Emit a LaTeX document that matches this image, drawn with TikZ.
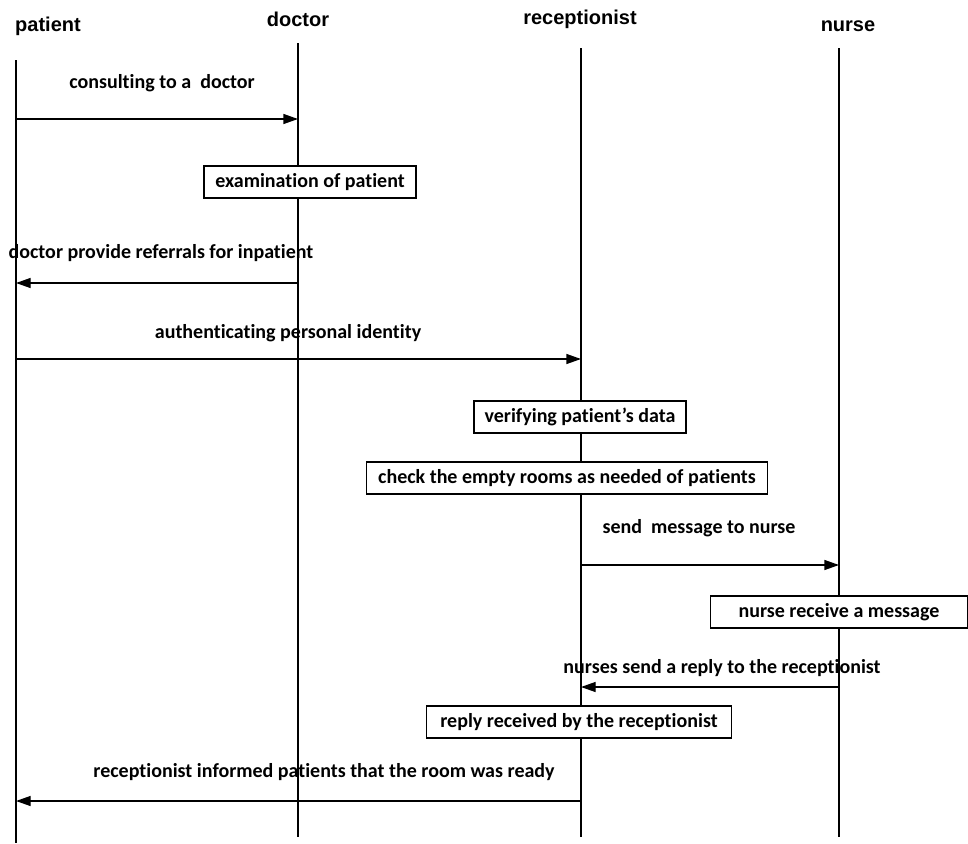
\documentclass[tikz,border=0pt]{standalone}
\usepackage{fontspec}
\setmainfont{Carlito}[Ligatures=NoCommon]
\newfontfamily\headfont{Liberation Sans}
\usetikzlibrary{arrows.meta}

\begin{document}
\begin{tikzpicture}[x=0.75pt,y=-0.75pt,>={Triangle[length=11pt,width=7.5pt]},
  actor/.style={font=\headfont\bfseries\fontsize{15}{17}\selectfont,inner sep=0pt},
  life/.style={line width=0.8pt},
  msg/.style={->,line width=1pt},
  lbl/.style={font=\bfseries\fontsize{15}{17}\selectfont,inner sep=0pt},
  actbox/.style={draw,line width=0.8pt,fill=white,inner sep=0pt,
    font=\bfseries\fontsize{15}{17}\selectfont,minimum height=24pt}]
  \useasboundingbox (0,0) rectangle (968,843);
  % actors
  \node[actor] (patient) at (48,26) {patient};
  \node[actor] (doctor) at (298,19) {doctor};
  \node[actor] (recep) at (580,19) {receptionist};
  \node[actor] (nurse) at (848,26) {nurse};
  % lifelines
  \coordinate (pat) at (16,60);  \coordinate (patEnd) at (16,843);
  \coordinate (doc) at (298,43); \coordinate (docEnd) at (298,837);
  \coordinate (rec) at (581,48); \coordinate (recEnd) at (581,837);
  \coordinate (nur) at (839,48); \coordinate (nurEnd) at (839,837);
  \draw[life] (pat) -- (patEnd);
  \draw[life] (doc) -- (docEnd);
  \draw[life] (rec) -- (recEnd);
  \draw[life] (nur) -- (nurEnd);
  % message heights
  \coordinate (m1) at (0,119);
  \coordinate (m2) at (0,283);
  \coordinate (m3) at (0,359);
  \coordinate (m4) at (0,565);
  \coordinate (m5) at (0,687);
  \coordinate (m6) at (0,801);
  % messages
  \draw[msg] (pat |- m1) -- (doc |- m1);
  \node[lbl] (l1) at (162,83) {consulting to a\ \ doctor};
  \node[actbox,minimum width=159pt] (examine) at (310,182) {examination of patient\hspace{8pt}};
  \draw[msg] (doc |- m2) -- (pat |- m2);
  \node[lbl] (l2) at (161,253) {doctor provide referrals for inpatient};
  \draw[msg] (pat |- m3) -- (rec |- m3);
  \node[lbl] (l3) at (288,333) {authenticating personal identity};
  \node[actbox,minimum width=159pt] (verify) at (580,417) {verifying patient’s data\hspace{6pt}};
  \node[actbox,minimum width=301pt] (rooms) at (567,478) {check the empty rooms as needed of patients\hspace{6pt}};
  \draw[msg] (rec |- m4) -- (nur |- m4);
  \node[lbl] (l4) at (699,528) {send\ \ message to nurse};
  \node[actbox,minimum width=193pt] (receive) at (839,612) {nurse receive a message};
  \draw[msg] (nur |- m5) -- (rec |- m5);
  \node[lbl] (l5) at (722,668) {nurses send a reply to the receptionist};
  \node[actbox,minimum width=229pt] (reply) at (579,722) {reply received by the receptionist};
  \draw[msg] (rec |- m6) -- (pat |- m6);
  \node[lbl] (l6) at (324,772) {receptionist informed patients that the room was ready};
\end{tikzpicture}
\end{document}
